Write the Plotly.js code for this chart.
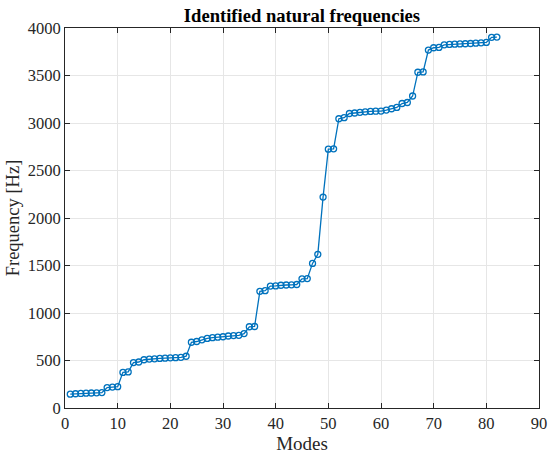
<!DOCTYPE html>
<html>
<head>
<meta charset="utf-8">
<script src="https://cdn.plot.ly/plotly-3.0.1.min.js"></script>
<style>html,body{margin:0;padding:0;background:#fff;}#chart{width:550px;height:459px;}</style>
</head>
<body>
<div id="chart"></div>
<script>
const modes = [];
for (let i = 1; i <= 82; i++) modes.push(i);
const frequencies = [
  146, 150, 153, 156, 158, 160, 162, 215, 220, 225,
  375, 380, 478, 484, 508, 515, 518, 522, 525, 528,
  530, 533, 545, 692, 700, 718, 732, 740, 746, 750,
  758, 762, 765, 783, 855, 858, 1228, 1235, 1283, 1285,
  1292, 1295, 1297, 1300, 1360, 1362, 1522, 1618, 2220, 2725,
  2728, 3045, 3056, 3100, 3105, 3112, 3118, 3122, 3124, 3126,
  3136, 3150, 3164, 3205, 3216, 3284, 3534, 3538, 3768, 3792,
  3796, 3823, 3827, 3830, 3832, 3834, 3837, 3840, 3844, 3848,
  3902, 3904
];
const xTicks = [0, 10, 20, 30, 40, 50, 60, 70, 80, 90];
const yTicks = [0, 500, 1000, 1500, 2000, 2500, 3000, 3500, 4000];
const titleText = 'Identified natural frequencies';
const xLabel = 'Modes';
const yLabel = 'Frequency [Hz]';

const fontFam = '"Liberation Serif", "Times New Roman", serif';
const axisCommon = {
  showgrid: true,
  gridcolor: '#e6e6e6',
  gridwidth: 1,
  zeroline: false,
  showline: true,
  linecolor: '#262626',
  linewidth: 1,
  mirror: 'ticks',
  ticks: 'inside',
  ticklen: 5,
  tickcolor: '#262626',
  tickfont: {family: fontFam, size: 16.5, color: '#262626'}
};

Plotly.newPlot('chart', [{
  x: modes,
  y: frequencies,
  type: 'scatter',
  mode: 'lines+markers',
  line: {color: '#0072BD', width: 1.3},
  marker: {symbol: 'circle-open', size: 6, color: '#0072BD', line: {width: 1.3, color: '#0072BD'}},
  hoverinfo: 'none'
}], {
  width: 550,
  height: 459,
  margin: {l: 65, r: 11, t: 28, b: 51},
  paper_bgcolor: '#fff',
  plot_bgcolor: '#fff',
  showlegend: false,
  title: {text: '<b>' + titleText + '</b>', font: {family: fontFam, size: 18.6, color: '#000'}, x: 0.549, xanchor: 'center', y: 0.967, yanchor: 'middle'},
  xaxis: Object.assign({}, axisCommon, {
    range: [0, 90],
    tickvals: xTicks,
    ticktext: xTicks.map(String),
    title: {text: xLabel, font: {family: fontFam, size: 19, color: '#262626'}, standoff: 3}
  }),
  yaxis: Object.assign({}, axisCommon, {
    range: [0, 4000],
    tickvals: yTicks,
    ticktext: yTicks.map(String),
    title: {text: yLabel, font: {family: fontFam, size: 18.5, color: '#262626'}, standoff: 3}
  })
}, {displayModeBar: false, staticPlot: true});
</script>
</body>
</html>
